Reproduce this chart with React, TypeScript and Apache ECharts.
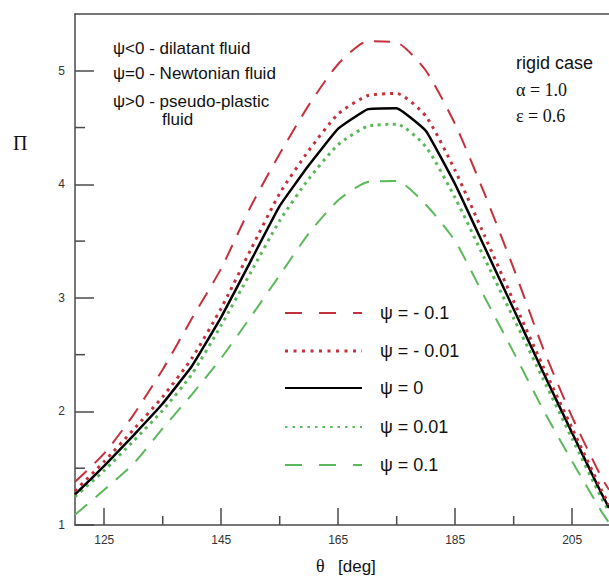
import React, { useEffect, useRef } from "react";
import * as echarts from "echarts";

// θ [deg] sample positions
const thetaDeg = [120, 125, 130, 135, 140, 145, 150, 155, 160, 165, 170, 175, 180, 185, 190, 195, 200, 205, 210, 211.3];
// Π values for each ψ
const piPsiNeg01 = [1.38, 1.63, 1.97, 2.37, 2.82, 3.26, 3.80, 4.27, 4.70, 5.06, 5.26, 5.25, 5.00, 4.53, 3.92, 3.26, 2.56, 1.95, 1.42, 1.31];
const piPsiNeg001 = [1.30, 1.56, 1.84, 2.13, 2.47, 2.91, 3.42, 3.92, 4.30, 4.62, 4.78, 4.80, 4.60, 4.12, 3.55, 2.97, 2.40, 1.85, 1.31, 1.18];
const piPsi0 = [1.27, 1.52, 1.79, 2.07, 2.40, 2.83, 3.32, 3.81, 4.17, 4.49, 4.66, 4.67, 4.47, 4.00, 3.45, 2.90, 2.35, 1.81, 1.28, 1.15];
const piPsiPos001 = [1.25, 1.48, 1.74, 2.01, 2.33, 2.76, 3.22, 3.68, 4.05, 4.35, 4.51, 4.53, 4.33, 3.88, 3.35, 2.82, 2.29, 1.76, 1.24, 1.12];
const piPsiPos01 = [1.09, 1.31, 1.54, 1.85, 2.15, 2.47, 2.83, 3.20, 3.57, 3.86, 4.02, 4.03, 3.82, 3.50, 3.01, 2.52, 2.02, 1.56, 1.12, 1.02];

const xMajorTicks = [125, 145, 165, 185, 205];
const xMinorTicks = [135, 155, 175, 195];
const yMajorTicks = [1, 2, 3, 4, 5];
const yMinorTicks = [1.5, 2.5, 3.5, 4.5];

const legendLabels = ["ψ = - 0.1", "ψ = - 0.01", "ψ = 0", "ψ = 0.01", "ψ = 0.1"];
const noteLines = ["ψ<0 - dilatant fluid", "ψ=0 - Newtonian fluid", "ψ>0 - pseudo-plastic", "fluid"];
const caseLines = ["rigid case", "α = 1.0", "ε = 0.6"];

const X_MIN = 120;
const X_MAX = 211.3;
const Y_MIN = 1;
const Y_MAX = 5.5;

const RED = "#c4303b";
const GREEN = "#5bb85b";
const BLACK = "#000000";
const AXIS = "#4a4a4a";
const SANS = "'Liberation Sans', Arial, sans-serif";
const SERIF = "'Liberation Serif', 'Times New Roman', serif";

const styles = [
  { color: RED, width: 2, type: [16, 11] as number[] | string, smooth: 0.2, legendWidth: 2, legendDash: [17, 17] },
  { color: RED, width: 3, type: [3, 5], smooth: 0.2, legendWidth: 3, legendDash: [3, 5.5] },
  { color: BLACK, width: 2.5, type: "solid", smooth: 0.1, legendWidth: 2, legendDash: null },
  { color: GREEN, width: 3, type: [3, 4.5], smooth: 0.2, legendWidth: 2, legendDash: [2.5, 5] },
  { color: GREEN, width: 2, type: [16, 11], smooth: 0.2, legendWidth: 2, legendDash: [17, 17] },
];
const seriesValues = [piPsiNeg01, piPsiNeg001, piPsi0, piPsiPos001, piPsiPos01];

function minorTickSeries(values: number[], dir: "x" | "y", len: number) {
  return {
    type: "custom",
    silent: true,
    data: values.map((v) => (dir === "x" ? [v, Y_MIN] : [X_MIN, v])),
    renderItem: (_p: any, api: any) => {
      const c = api.coord([api.value(0), api.value(1)]);
      const shape =
        dir === "x"
          ? { x1: c[0], y1: c[1], x2: c[0], y2: c[1] - len }
          : { x1: c[0], y1: c[1], x2: c[0] + len, y2: c[1] };
      return { type: "line", shape, style: { stroke: AXIS, lineWidth: 1.5 } };
    },
  };
}

export default function App() {
  const ref = useRef<HTMLDivElement>(null);
  useEffect(() => {
    if (!ref.current) return;
    document.body.style.margin = "0";
    const chart = echarts.init(ref.current, null, { renderer: "svg" });
    const legendRows = [313, 351, 388, 427, 465];
    const graphic: any[] = [];
    const txt = (text: string, x: number, y: number, font: string) => ({
      type: "text",
      x,
      y,
      style: { text, font, fill: "#111", textAlign: "left", textVerticalAlign: "middle", align: "left", verticalAlign: "middle" },
    });
    legendLabels.forEach((label, i) => {
      const s = styles[i];
      graphic.push({
        type: "line",
        shape: { x1: 285, y1: legendRows[i], x2: 362, y2: legendRows[i] },
        style: { stroke: s.color, lineWidth: s.legendWidth, lineDash: s.legendDash || undefined },
      });
      graphic.push(txt(label, 380, legendRows[i], `18px ${SANS}`));
    });
    const noteY = [48, 73, 101, 119];
    const noteX = [113, 113, 113, 162];
    noteLines.forEach((t, i) => graphic.push(txt(t, noteX[i], noteY[i], `17px ${SANS}`)));
    const caseY = [63, 90, 116];
    caseLines.forEach((t, i) => graphic.push(txt(t, 516, caseY[i], i === 0 ? `18px ${SANS}` : `18px ${SERIF}`)));
    graphic.push(txt("Π", 13, 143, `20px ${SERIF}`));
    graphic.push(txt("θ", 316, 566, `18px ${SERIF}`));
    graphic.push(txt("[deg]", 338, 566, `17px ${SANS}`));

    chart.setOption({
      animation: false,
      grid: { left: 75, top: 14, right: 0, bottom: 51 },
      xAxis: [
        {
          type: "value",
          min: X_MIN,
          max: X_MAX,
          axisLine: { show: true, lineStyle: { color: AXIS, width: 1.5 } },
          axisTick: { show: true, inside: true, length: 17, customValues: xMajorTicks, lineStyle: { color: AXIS, width: 1.5 } },
          axisLabel: { show: true, customValues: xMajorTicks, margin: 9, fontSize: 12, color: "#333", fontFamily: SANS },
          splitLine: { show: false },
        },
        {
          type: "value",
          min: X_MIN,
          max: X_MAX,
          position: "top",
          axisLine: { show: true, lineStyle: { color: AXIS, width: 1.5 } },
          axisTick: { show: false },
          axisLabel: { show: false },
          splitLine: { show: false },
        },
      ],
      yAxis: {
        type: "value",
        min: Y_MIN,
        max: Y_MAX,
        axisLine: { show: true, lineStyle: { color: AXIS, width: 1.5 } },
        axisTick: { show: true, inside: true, length: 19, customValues: yMajorTicks, lineStyle: { color: AXIS, width: 1.5 } },
        axisLabel: { show: true, customValues: yMajorTicks, margin: 10, fontSize: 12, color: "#333", fontFamily: SANS },
        splitLine: { show: false },
      },
      series: [
        ...seriesValues.map((vals, i) => ({
          type: "line",
          name: legendLabels[i],
          data: thetaDeg.map((t, k) => [t, vals[k]]),
          showSymbol: false,
          symbol: "none",
          smooth: styles[i].smooth,
          lineStyle: { color: styles[i].color, width: styles[i].width, type: styles[i].type },
          z: 10 - i,
        })),
        minorTickSeries(xMinorTicks, "x", 9),
        minorTickSeries(yMinorTicks, "y", 10),
      ],
      graphic,
    });
    return () => chart.dispose();
  }, []);
  return <div ref={ref} style={{ width: 609, height: 576 }} />;
}
